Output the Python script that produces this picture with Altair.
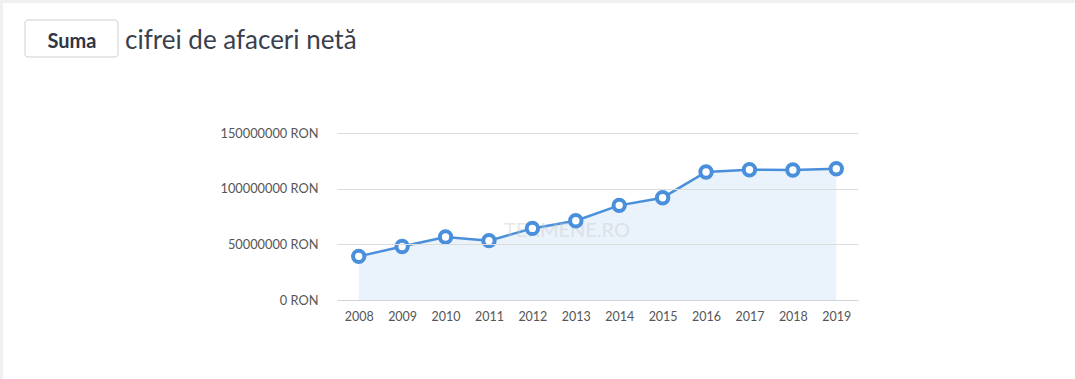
import altair as alt
import pandas as pd

years = ["2008", "2009", "2010", "2011", "2012", "2013", "2014", "2015", "2016", "2017", "2018", "2019"]
values = [39200000, 48100000, 56600000, 53300000, 64300000, 71200000, 85000000, 91900000,
          115000000, 117000000, 116800000, 117900000]
y_ticks = [0, 50000000, 100000000, 150000000]
title_button = "Suma"
title_rest = "cifrei de afaceri netă"
watermark = "TERMENE.RO"

df = pd.DataFrame({"an": years, "suma": values})

FONT = "Lato"
BLUE = "#4a8fdb"

x_enc = alt.X("an:O", scale=alt.Scale(type="point", padding=0.5),
              axis=alt.Axis(title=None, labelAngle=0, ticks=False, domainColor="#cfd3da",
                            labelColor="#555", labelFont=FONT, labelFontSize=12.5,
                            labelPadding=10, grid=False, zindex=1))
y_enc = alt.Y("suma:Q", scale=alt.Scale(domain=[0, 150000000], nice=False),
              axis=alt.Axis(title=None, values=y_ticks, labelExpr="datum.value + ' RON'",
                            domain=False, ticks=False, gridColor="#dcdcdc",
                            labelColor="#555", labelFont=FONT, labelFontSize=12.8,
                            labelPadding=19, zindex=1))

base = alt.Chart(df)

one = alt.Data(values=[{"k": 1}])

bg = alt.Chart(one).mark_rect(fill="white").encode(
    x=alt.value(-334), x2=alt.value(760), y=alt.value(-130), y2=alt.value(300))

area = base.mark_area(color="#e6f0fb", opacity=0.85).encode(x=x_enc, y=y_enc)
line = base.mark_line(color=BLUE, strokeWidth=2.5).encode(x="an:O", y="suma:Q")
pts = base.mark_point(filled=True, fill="white", stroke=BLUE, strokeWidth=4, size=130,
                      opacity=1).encode(x="an:O", y="suma:Q",
                                        tooltip=["an", "suma"])

wm = alt.Chart(one).mark_text(text=watermark, font=FONT, fontSize=20, color="#c8c8c8",
                               opacity=0.4, align="center", baseline="middle").encode(
    x=alt.value(230), y=alt.value(98))

btn = alt.Chart(one).mark_rect(fill="white", stroke="#cdd0d6", strokeWidth=1,
                               cornerRadius=3).encode(
    x=alt.value(-312), x2=alt.value(-219), y=alt.value(-113), y2=alt.value(-76))
btn_txt = alt.Chart(one).mark_text(text=title_button, font=FONT, fontSize=20, fontWeight="bold",
                                   color="#2f3545", align="center", baseline="middle").encode(
    x=alt.value(-265), y=alt.value(-91))
title_txt = alt.Chart(one).mark_text(text=title_rest, font=FONT, fontSize=26,
                                     color="#3a3f4e", align="left", baseline="middle").encode(
    x=alt.value(-212), y=alt.value(-92))

chart = alt.layer(bg, area, line, wm, pts, btn, btn_txt, title_txt).properties(
    width=521, height=167,
    autosize=alt.AutoSizeParams(type="none"),
    padding={"left": 337, "top": 133, "right": 217, "bottom": 79},
    background="#f0f0f3",
).configure_view(stroke=None)

chart.save("out.html", embed_options={"renderer": "svg", "actions": False})
